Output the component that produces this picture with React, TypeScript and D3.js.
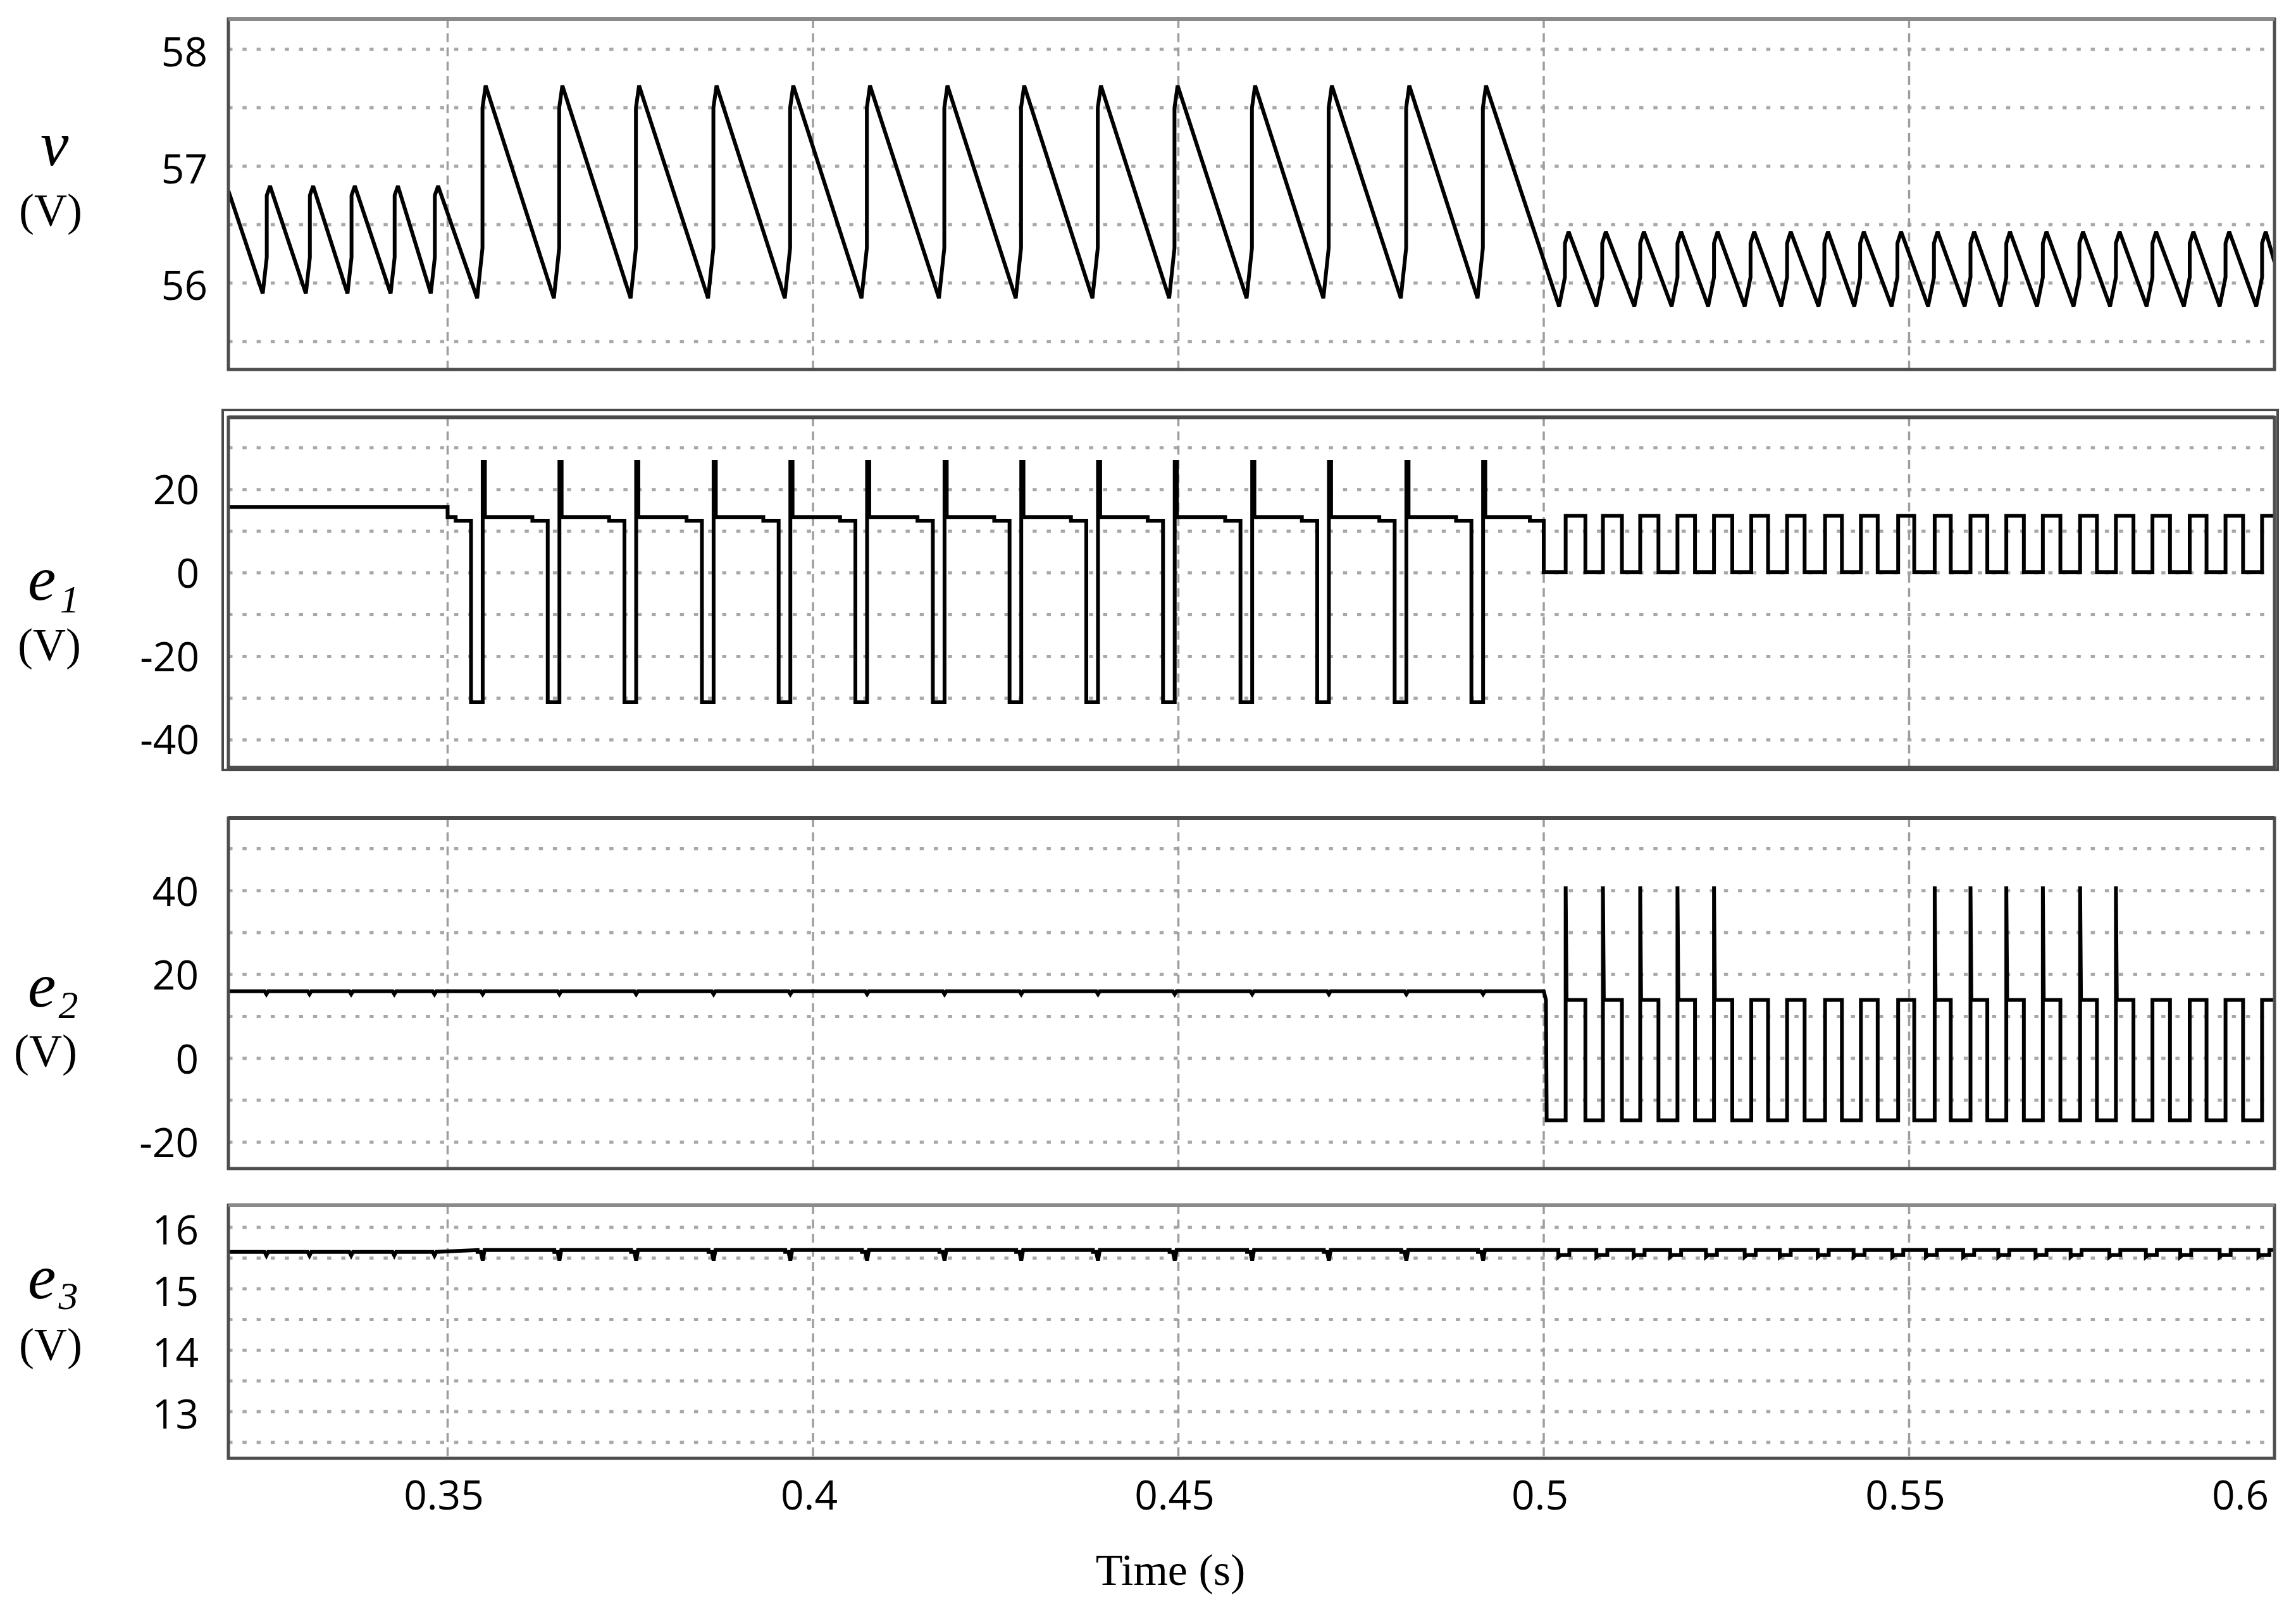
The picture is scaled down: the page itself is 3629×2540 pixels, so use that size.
import React from "react";
import * as d3 from "d3";

// ---------------- data ----------------
const TIME_DOMAIN: [number, number] = [0.32, 0.6];
const TIME_GRID = [0.35, 0.4, 0.45, 0.5, 0.55];
const TIME_TICKS = [0.35, 0.4, 0.45, 0.5, 0.55, 0.6];
const TIME_TICK_LABELS = ["0.35", "0.4", "0.45", "0.5", "0.55", "0.6"];

// v : output voltage
const V_DOMAIN: [number, number] = [55.26, 58.26];
const V_GRID = [55.5, 56, 56.5, 57, 57.5, 58];
const V_TICKS = [56, 57, 58];
const V_TICK_LABELS = ["56", "57", "58"];
const V_START: [number, number] = [0.32, 56.79];
const V_END: [number, number] = [0.6, 56.18];
const V_PEAKS_A = [0.3257, 0.3316, 0.3373, 0.3432, 0.3487];
const V_PEAKS_B = [0.3552, 0.3657, 0.3762, 0.3868, 0.3973, 0.4078, 0.4184, 0.4289, 0.4394, 0.4499, 0.4605, 0.471, 0.4816, 0.4921];
const V_PEAKS_C = [0.5034, 0.5085, 0.5137, 0.5188, 0.5238, 0.5288, 0.5338, 0.5389, 0.5438, 0.5489, 0.5539, 0.5589, 0.5638, 0.5688, 0.5738, 0.5788, 0.5838, 0.5889, 0.5938, 0.5988];
// [trough, knee low, knee high, peak]
const V_LEVELS_A = [55.91, 56.22, 56.75, 56.83];
const V_LEVELS_B = [55.87, 56.3, 57.5, 57.69];
const V_LEVELS_C = [55.8, 56.05, 56.34, 56.44];
// [trough lead, knee lead] before each peak (s)
const V_LEADS_A = [0.001, 0.00045];
const V_LEADS_B = [0.00116, 0.00043];
const V_LEADS_C = [0.0013, 0.0005];

// e1
const E1_DOMAIN: [number, number] = [-46.6, 37.3];
const E1_GRID = [-40, -30, -20, -10, 0, 10, 20, 30];
const E1_TICKS = [-40, -20, 0, 20];
const E1_TICK_LABELS = ["-40", "-20", "0", "20"];
const E1_INITIAL = 15.8;
const E1_STEP_T = 0.35;
const E1_SAG_T = [0.3511, 0.3616, 0.3721, 0.3827, 0.3932, 0.4037, 0.4143, 0.4248, 0.4353, 0.4458, 0.4564, 0.4669, 0.4775, 0.488, 0.4981];
const E1_DROP_T = [0.3532, 0.3637, 0.3742, 0.3848, 0.3953, 0.4058, 0.4164, 0.4269, 0.4374, 0.4479, 0.4585, 0.469, 0.4796, 0.4901];
const E1_SPIKE_T = [0.3548, 0.3653, 0.3758, 0.3864, 0.3969, 0.4074, 0.418, 0.4285, 0.439, 0.4495, 0.4601, 0.4706, 0.4812, 0.4917];
// plateau, sag, low, spike
const E1_LEVELS = [13.4, 12.5, -31, 26.6];
const E1_SQUARE = [0.2, 13.7];

// common switching instants after t = 0.5 s
const SQ_SWITCH_T = 0.5;
const SQ_RISE_T = [0.503, 0.5081, 0.5132, 0.5183, 0.5233, 0.5284, 0.5333, 0.5385, 0.5434, 0.5485, 0.5535, 0.5584, 0.5633, 0.5683, 0.5734, 0.5783, 0.5833, 0.5884, 0.5933, 0.5983];
const SQ_FALL_T = [0.5057, 0.5107, 0.5157, 0.5207, 0.5258, 0.5307, 0.5357, 0.5408, 0.5457, 0.5507, 0.5557, 0.5607, 0.5657, 0.5707, 0.5757, 0.5807, 0.5857, 0.5907, 0.5957];

// e2
const E2_DOMAIN: [number, number] = [-26.3, 57.3];
const E2_GRID = [-20, -10, 0, 10, 20, 30, 40, 50];
const E2_TICKS = [-20, 0, 20, 40];
const E2_TICK_LABELS = ["-20", "0", "20", "40"];
const E2_LEVEL = 16.0;
const E2_NOTCH_LEVEL = 15.3;
const E2_NOTCH_T = [0.3252, 0.3311, 0.3368, 0.3427, 0.3482, 0.3548, 0.3653, 0.3758, 0.3864, 0.3969, 0.4074, 0.418, 0.4285, 0.439, 0.4495, 0.4601, 0.4706, 0.4812, 0.4917];
const E2_SQUARE = [-14.8, 13.9];
const E2_SPIKE_CYCLES = [0, 1, 2, 3, 4, 10, 11, 12, 13, 14, 15];
const E2_SPIKE_LEVEL = 41;

// e3
const E3_DOMAIN: [number, number] = [12.24, 16.36];
const E3_GRID = [12.5, 13, 13.5, 14, 14.5, 15, 15.5, 16];
const E3_TICKS = [13, 14, 15, 16];
const E3_TICK_LABELS = ["13", "14", "15", "16"];
// base, high, low
const E3_LEVELS = [15.6, 15.63, 15.55];
const E3_NOTCH_A = [0.3252, 0.3311, 0.3368, 0.3427, 0.3482];
const E3_NOTCH_A_LEVEL = 15.54;
const E3_NOTCH_B_LEVEL = 15.46;
const E3_DIP_LEVEL = 15.52;
const E3_DIP_C = [0.502, 0.5072, 0.5123, 0.5173, 0.5222, 0.5275, 0.5323, 0.5375, 0.5424, 0.5477, 0.5523, 0.5574, 0.5622, 0.5673, 0.5721, 0.5774, 0.5824, 0.5871, 0.5925, 0.5978];

// ---------------- waveform assembly ----------------
type P = [number, number];

function buildV(): P[] {
  const pts: P[] = [V_START];
  const add = (peaks: number[], lv: number[], leads: number[]) => {
    peaks.forEach((p) => {
      pts.push([p - leads[0], lv[0]], [p - leads[1], lv[1]], [p - leads[1], lv[2]], [p, lv[3]]);
    });
  };
  add(V_PEAKS_A, V_LEVELS_A, V_LEADS_A);
  add(V_PEAKS_B, V_LEVELS_B, V_LEADS_B);
  add(V_PEAKS_C, V_LEVELS_C, V_LEADS_C);
  pts.push(V_END);
  return pts;
}

function buildE1(): P[] {
  const [plateau, sag, low, spike] = E1_LEVELS;
  const sw = 0.0003;
  const pts: P[] = [[TIME_DOMAIN[0], E1_INITIAL], [E1_STEP_T, E1_INITIAL], [E1_STEP_T, plateau]];
  E1_DROP_T.forEach((d, i) => {
    const s = E1_SPIKE_T[i];
    const g = E1_SAG_T[i];
    pts.push([g, plateau], [g, sag], [d, sag], [d, low], [s, low], [s, spike], [s + sw, spike], [s + sw, plateau]);
  });
  const lastSag = E1_SAG_T[E1_SAG_T.length - 1];
  pts.push([lastSag, plateau], [lastSag, sag], [SQ_SWITCH_T, sag], [SQ_SWITCH_T, E1_SQUARE[0]]);
  SQ_RISE_T.forEach((r, i) => {
    pts.push([r, E1_SQUARE[0]], [r, E1_SQUARE[1]]);
    if (i < SQ_FALL_T.length) pts.push([SQ_FALL_T[i], E1_SQUARE[1]], [SQ_FALL_T[i], E1_SQUARE[0]]);
  });
  pts.push([TIME_DOMAIN[1], E1_SQUARE[1]]);
  return pts;
}

function buildE2(): P[] {
  const nw = 0.00025;
  const [lo, hi] = E2_SQUARE;
  const pts: P[] = [[TIME_DOMAIN[0], E2_LEVEL]];
  E2_NOTCH_T.forEach((t) => {
    pts.push([t - nw, E2_LEVEL], [t, E2_NOTCH_LEVEL], [t + nw, E2_LEVEL]);
  });
  pts.push([SQ_SWITCH_T, E2_LEVEL], [SQ_SWITCH_T + 0.0003, hi], [SQ_SWITCH_T + 0.0004, lo]);
  SQ_RISE_T.forEach((r, i) => {
    pts.push([r, lo]);
    if (E2_SPIKE_CYCLES.includes(i)) pts.push([r, E2_SPIKE_LEVEL], [r + 0.00012, hi]);
    else pts.push([r, hi]);
    if (i < SQ_FALL_T.length) pts.push([SQ_FALL_T[i], hi], [SQ_FALL_T[i], lo]);
  });
  pts.push([TIME_DOMAIN[1], hi]);
  return pts;
}

function buildE3(): P[] {
  const [base, hi, lo] = E3_LEVELS;
  const nw = 0.00025;
  const pts: P[] = [[TIME_DOMAIN[0], base]];
  E3_NOTCH_A.forEach((t) => {
    pts.push([t - nw, base], [t, E3_NOTCH_A_LEVEL], [t + nw, base]);
  });
  E1_SPIKE_T.forEach((t) => {
    pts.push([t - 0.0007, hi], [t - 0.0007, base], [t - nw, base], [t, E3_NOTCH_B_LEVEL], [t + nw, hi]);
  });
  E3_DIP_C.forEach((d) => {
    pts.push([d, hi], [d, E3_DIP_LEVEL], [d + 0.0003, lo], [d + 0.0015, lo], [d + 0.0015, hi]);
  });
  pts.push([TIME_DOMAIN[1], hi]);
  return pts;
}

// ---------------- layout ----------------
const W = 3629;
const H = 2540;
const X0 = 361;
const X1 = 3595;

const TICK_FONT = "'Open Sans', 'Noto Sans', sans-serif";
const SERIF = "'Liberation Serif', 'DejaVu Serif', serif";

export default function App() {
  const x = d3.scaleLinear().domain(TIME_DOMAIN).range([X0, X1]);

  const panels = [
    { key: "v", top: 30, bottom: 584, domain: V_DOMAIN, grid: V_GRID, ticks: V_TICKS, labels: V_TICK_LABELS, data: buildV(), labelX: 328, labelDy: 27, topColor: "#8a8a8a" },
    { key: "e1", top: 659.5, bottom: 1213, domain: E1_DOMAIN, grid: E1_GRID, ticks: E1_TICKS, labels: E1_TICK_LABELS, data: buildE1(), labelX: 315, labelDy: 23, topColor: "#4a4a4a" },
    { key: "e2", top: 1293, bottom: 1847, domain: E2_DOMAIN, grid: E2_GRID, ticks: E2_TICKS, labels: E2_TICK_LABELS, data: buildE2(), labelX: 314, labelDy: 24, topColor: "#4a4a4a" },
    { key: "e3", top: 1905, bottom: 2305, domain: E3_DOMAIN, grid: E3_GRID, ticks: E3_TICKS, labels: E3_TICK_LABELS, data: buildE3(), labelX: 314, labelDy: 27, topColor: "#8a8a8a" },
  ];

  return (
    <svg
      width={W}
      height={H}
      viewBox={`0 0 ${W} ${H}`}
      style={{ position: "absolute", left: 0, top: 0, display: "block", background: "#fff" }}
    >
      <rect x={0} y={0} width={W} height={H} fill="#fff" />
      {panels.map((p) => {
        const y = d3.scaleLinear().domain(p.domain).range([p.bottom, p.top]);
        const line = d3
          .line<P>()
          .x((d) => x(d[0]))
          .y((d) => y(d[1]));
        const clipId = `clip-${p.key}`;
        return (
          <g key={p.key}>
            <defs>
              <clipPath id={clipId}>
                <rect x={X0} y={p.top} width={X1 - X0} height={p.bottom - p.top} />
              </clipPath>
            </defs>
            {p.grid.map((g) => (
              <line
                key={`h${g}`}
                x1={X0}
                x2={X1}
                y1={y(g)}
                y2={y(g)}
                stroke="#a8a8a8"
                strokeWidth={5}
                strokeDasharray="6.5 15.8"
              />
            ))}
            {TIME_GRID.map((t) => (
              <line
                key={`v${t}`}
                x1={x(t)}
                x2={x(t)}
                y1={p.top}
                y2={p.bottom}
                stroke="#9e9e9e"
                strokeWidth={3.5}
                strokeDasharray="14 8.5"
              />
            ))}
            <path
              d={line(p.data) || ""}
              fill="none"
              stroke="#000"
              strokeWidth={6}
              strokeLinejoin="miter"
              strokeMiterlimit={3}
              clipPath={`url(#${clipId})`}
            />
            {p.key === "e1" && (
              <rect x={352} y={648} width={3600 - 352} height={1217 - 648} fill="none" stroke="#4a4a4a" strokeWidth={4} />
            )}
            <rect
              x={X0}
              y={p.top}
              width={X1 - X0}
              height={p.bottom - p.top}
              fill="none"
              stroke="#4d4d4d"
              strokeWidth={5}
            />
            <line x1={X0} x2={X1} y1={p.top} y2={p.top} stroke={p.topColor} strokeWidth={6} />
            {p.ticks.map((t, i) => (
              <text
                key={`t${t}`}
                x={p.labelX}
                y={y(t) + p.labelDy}
                textAnchor="end"
                fontFamily={TICK_FONT}
                fontSize={64}
                fill="#000"
              >
                {p.labels[i]}
              </text>
            ))}
          </g>
        );
      })}

      {/* y-axis titles */}
      <text x={64} y={261} fontFamily={SERIF} fontStyle="italic" fontSize={100} fill="#000">v</text>
      <text x={80} y={356} textAnchor="middle" fontFamily={SERIF} fontSize={72} fill="#000">(V)</text>

      <text x={44} y={948} fontFamily={SERIF} fontStyle="italic" fontSize={100} fill="#000">
        e<tspan fontSize={62} dx={6} dy={20}>1</tspan>
      </text>
      <text x={78} y={1043} textAnchor="middle" fontFamily={SERIF} fontSize={72} fill="#000">(V)</text>

      <text x={44} y={1591} fontFamily={SERIF} fontStyle="italic" fontSize={100} fill="#000">
        e<tspan fontSize={62} dx={4} dy={18}>2</tspan>
      </text>
      <text x={72} y={1685} textAnchor="middle" fontFamily={SERIF} fontSize={72} fill="#000">(V)</text>

      <text x={44} y={2052} fontFamily={SERIF} fontStyle="italic" fontSize={100} fill="#000">
        e<tspan fontSize={62} dx={4} dy={17}>3</tspan>
      </text>
      <text x={80} y={2149} textAnchor="middle" fontFamily={SERIF} fontSize={72} fill="#000">(V)</text>

      {/* x tick labels */}
      {TIME_TICKS.map((t, i) => {
        const last = i === TIME_TICKS.length - 1;
        return (
          <text
            key={`xt${t}`}
            x={last ? 3586 : x(t) - 6}
            y={2386}
            textAnchor={last ? "end" : "middle"}
            fontFamily={TICK_FONT}
            fontSize={64}
            fill="#000"
          >
            {TIME_TICK_LABELS[i]}
          </text>
        );
      })}
      <text x={1850} y={2505} textAnchor="middle" fontFamily={SERIF} fontSize={70} fill="#000">
        Time (s)
      </text>
    </svg>
  );
}
